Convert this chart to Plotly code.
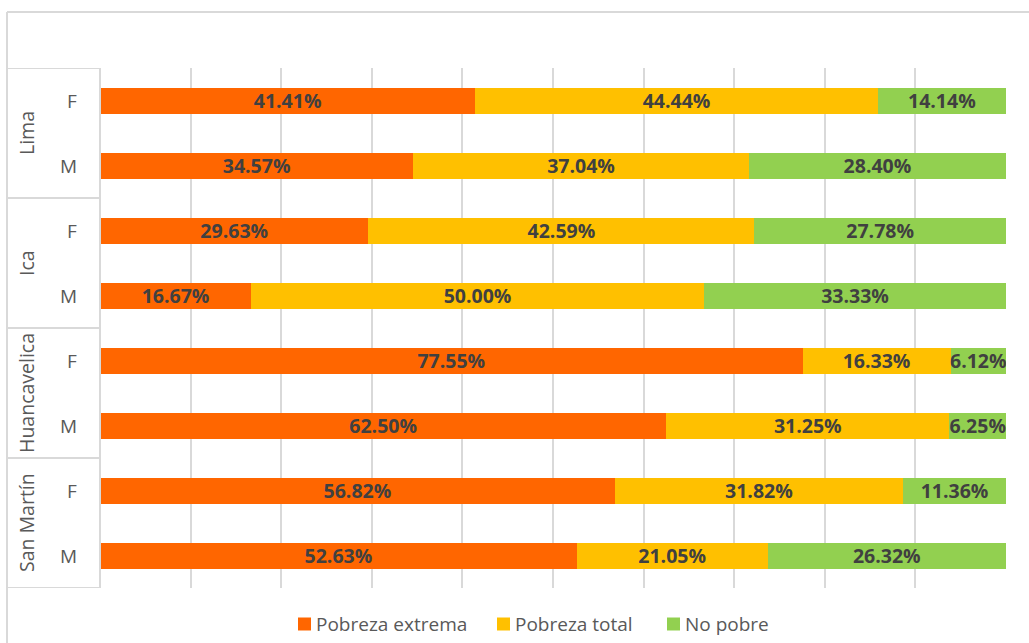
import plotly.graph_objects as go

# ---- data ----
regions = ["Lima", "Ica", "Huancavelica", "San Martín"]
sexes = ["F", "M"]
series_names = ["Pobreza extrema", "Pobreza total", "No pobre"]
pobreza_extrema = [41.41, 34.57, 29.63, 16.67, 77.55, 62.50, 56.82, 52.63]
pobreza_total = [44.44, 37.04, 42.59, 50.00, 16.33, 31.25, 31.82, 21.05]
no_pobre = [14.14, 28.40, 27.78, 33.33, 6.12, 6.25, 11.36, 26.32]
colors = ["#FF6600", "#FFC000", "#92D050"]

# ---- layout constants (pixels) ----
W, H = 1029, 643
L, R, T, B = 100, 23, 68, 55
PW, PH = W - L - R, H - T - B
legend_item_px = [298, 497, 667]
legend_y_px = 624


def px_x(p):
    return (p - L) / PW


def px_y(p):
    return (H - B - p) / PH


rows = [(r, s) for r in regions for s in sexes]
ypos = list(range(len(rows)))

fig = go.Figure()
for name, vals, col in zip(series_names, [pobreza_extrema, pobreza_total, no_pobre], colors):
    fig.add_trace(go.Bar(
        x=vals, y=ypos, orientation="h", name=name,
        marker=dict(color=col, line=dict(width=0)),
        width=0.4,
        text=[f"{v:.2f}%" for v in vals],
        textposition="inside", insidetextanchor="middle",
        textangle=0, constraintext="none",
        textfont=dict(family="Open Sans", size=19.5, color="#404040", weight="bold"),
        hoverinfo="skip", showlegend=False,
    ))

shapes = []
line_col = "#D9D9D9"
# outer chart frame (left and top edges visible)
shapes.append(dict(type="line", xref="paper", yref="paper",
                   x0=px_x(7), x1=px_x(W + 5), y0=px_y(12), y1=px_y(12),
                   line=dict(color=line_col, width=2)))
shapes.append(dict(type="line", xref="paper", yref="paper",
                   x0=px_x(7), x1=px_x(7), y0=px_y(12), y1=px_y(H + 5),
                   line=dict(color=line_col, width=2)))
# category box boundaries
n_s = len(sexes)
for g in range(len(regions) + 1):
    yb = g * n_s - 0.5
    shapes.append(dict(type="line", xref="paper", yref="y",
                       x0=px_x(7), x1=0, y0=yb, y1=yb,
                       line=dict(color=line_col, width=2)))
shapes.append(dict(type="line", xref="paper", yref="paper",
                   x0=0, x1=0, y0=0, y1=1, line=dict(color=line_col, width=2)))

annotations = []
for g, reg in enumerate(regions):
    annotations.append(dict(text=reg, xref="paper", yref="y",
                            x=px_x(26), y=g * n_s + (n_s - 1) / 2,
                            textangle=-90, showarrow=False,
                            font=dict(family="Open Sans", size=19.5, color="#595959"),
                            xanchor="center", yanchor="middle"))
for i, (reg, s) in enumerate(rows):
    annotations.append(dict(text=s, xref="paper", yref="y",
                            x=px_x(79), y=i, showarrow=False,
                            font=dict(family="Open Sans", size=19, color="#595959"),
                            xanchor="right", yanchor="middle"))

# legend (drawn manually to match spacing)
for name, col, lx in zip(series_names, colors, legend_item_px):
    shapes.append(dict(type="rect", xref="paper", yref="paper",
                       x0=px_x(lx), x1=px_x(lx + 13),
                       y0=px_y(legend_y_px - 6.5), y1=px_y(legend_y_px + 6.5),
                       fillcolor=col, line=dict(width=0)))
    annotations.append(dict(text=name, xref="paper", yref="paper",
                            x=px_x(lx + 16), y=px_y(legend_y_px), showarrow=False,
                            font=dict(family="Open Sans", size=19, color="#595959"),
                            xanchor="left", yanchor="middle"))

fig.update_layout(
    width=W, height=H,
    barmode="stack",
    plot_bgcolor="white", paper_bgcolor="white",
    margin=dict(l=L, r=R, t=T, b=B, pad=0),
    xaxis=dict(range=[0, 100], dtick=10, showgrid=True, gridcolor=line_col, gridwidth=1.5,
               showticklabels=False, zeroline=False, showline=False, fixedrange=True),
    yaxis=dict(range=[len(rows) - 0.5, -0.5], showticklabels=False, showgrid=False,
               zeroline=False, showline=False, fixedrange=True),
    showlegend=False,
    shapes=shapes,
    annotations=annotations,
)

fig.write_html("out.html")
